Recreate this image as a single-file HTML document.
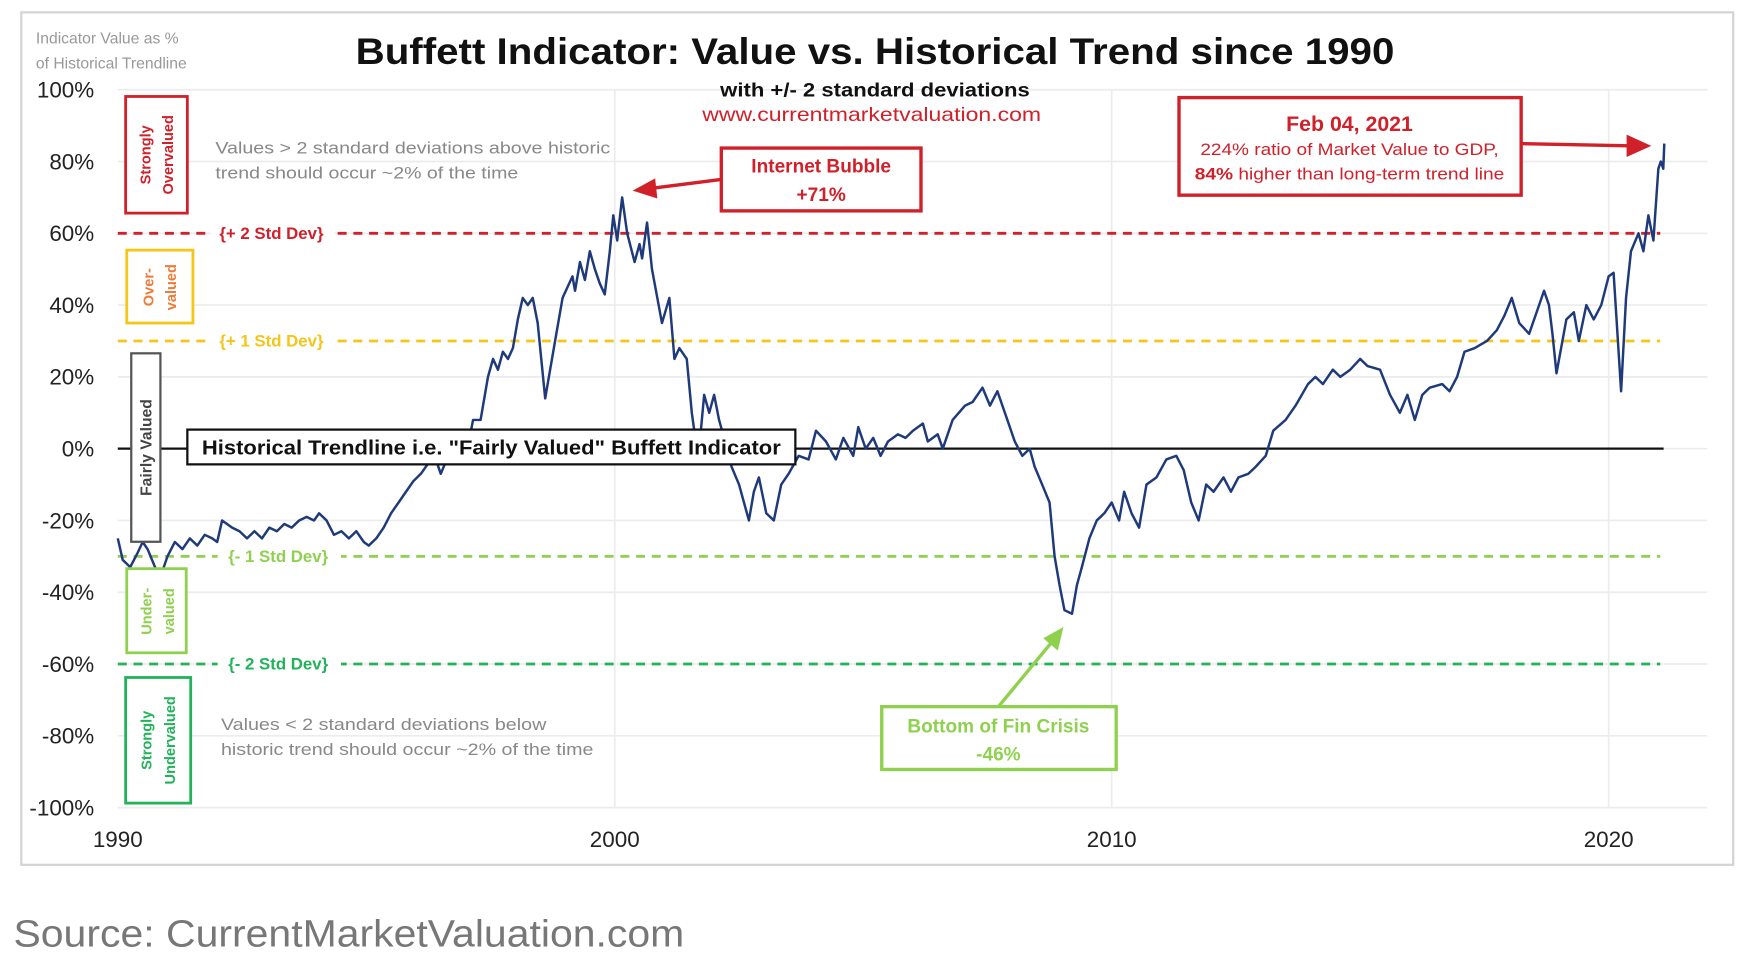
<!DOCTYPE html>
<html><head><meta charset="utf-8"><style>
html,body{margin:0;padding:0;background:#fff;}
svg{display:block;font-family:"Liberation Sans",sans-serif;}
</style></head><body>
<svg width="1750" height="968" viewBox="0 0 1560 863" preserveAspectRatio="none">
<rect x="19" y="11" width="1526" height="760" fill="#fff" stroke="#d4d4d4" stroke-width="2"/>
<g id="grid"></g>
<g id="ylabels"></g>
<g id="xlabels"></g>
<text x="32" y="39" font-size="14" fill="#999">Indicator Value as %</text>
<text x="32" y="61" font-size="14" fill="#999">of Historical Trendline</text>
<text x="780" y="57" font-size="33" font-weight="bold" text-anchor="middle" fill="#111" textLength="926" lengthAdjust="spacingAndGlyphs">Buffett Indicator: Value vs. Historical Trend since 1990</text>
<text x="780" y="86" font-size="17" font-weight="bold" text-anchor="middle" fill="#111" textLength="276" lengthAdjust="spacingAndGlyphs">with +/- 2 standard deviations</text>
<text x="777" y="108" font-size="17" text-anchor="middle" fill="#d0202a" textLength="302" lengthAdjust="spacingAndGlyphs">www.currentmarketvaluation.com</text>
<g id="bands"></g>
<line x1="105" y1="400" x2="1483" y2="400" stroke="#111" stroke-width="2"/>
<path id="series" fill="none" stroke="#1f3a7a" stroke-width="2.2" stroke-linejoin="round"/>
<!-- zone boxes -->
<rect x="112" y="86" width="55" height="104" fill="#fff" stroke="#d0202a" stroke-width="2.5"/>
<text transform="translate(134,138) rotate(-90)" font-size="13" font-weight="bold" fill="#d0202a" text-anchor="middle">Strongly</text>
<text transform="translate(154,138) rotate(-90)" font-size="13" font-weight="bold" fill="#d0202a" text-anchor="middle">Overvalued</text>
<rect x="113" y="223" width="59" height="65" fill="#fff" stroke="#f5c518" stroke-width="2.5"/>
<text transform="translate(137,256) rotate(-90)" font-size="13" font-weight="bold" fill="#ef7b3a" text-anchor="middle">Over-</text>
<text transform="translate(157,256) rotate(-90)" font-size="13" font-weight="bold" fill="#ef7b3a" text-anchor="middle">valued</text>
<rect x="117" y="315" width="26" height="168" fill="#fff" stroke="#555" stroke-width="2"/>
<text transform="translate(135,399) rotate(-90)" font-size="14" font-weight="bold" fill="#444" text-anchor="middle">Fairly Valued</text>
<rect x="113" y="507" width="53" height="75" fill="#fff" stroke="#8fd14f" stroke-width="2.5"/>
<text transform="translate(135,545) rotate(-90)" font-size="13" font-weight="bold" fill="#8fd14f" text-anchor="middle">Under-</text>
<text transform="translate(155,545) rotate(-90)" font-size="13" font-weight="bold" fill="#8fd14f" text-anchor="middle">valued</text>
<rect x="112" y="604" width="58" height="112" fill="#fff" stroke="#22b35a" stroke-width="2.5"/>
<text transform="translate(135,660) rotate(-90)" font-size="13" font-weight="bold" fill="#22b35a" text-anchor="middle">Strongly</text>
<text transform="translate(156,660) rotate(-90)" font-size="13" font-weight="bold" fill="#22b35a" text-anchor="middle">Undervalued</text>
<!-- notes -->
<text x="192" y="137" font-size="15" fill="#888" textLength="352" lengthAdjust="spacingAndGlyphs">Values &gt; 2 standard deviations above historic</text>
<text x="192" y="159" font-size="15" fill="#888" textLength="270" lengthAdjust="spacingAndGlyphs">trend should occur ~2% of the time</text>
<text x="197" y="651" font-size="15" fill="#888" textLength="290" lengthAdjust="spacingAndGlyphs">Values &lt; 2 standard deviations below</text>
<text x="197" y="673" font-size="15" fill="#888" textLength="332" lengthAdjust="spacingAndGlyphs">historic trend should occur ~2% of the time</text>
<!-- trendline label -->
<rect x="167" y="383" width="542" height="31" fill="#fff" stroke="#111" stroke-width="2"/>
<text x="438" y="405" font-size="18" font-weight="bold" fill="#111" text-anchor="middle" textLength="516" lengthAdjust="spacingAndGlyphs">Historical Trendline i.e. "Fairly Valued" Buffett Indicator</text>
<!-- internet bubble -->
<rect x="643" y="132" width="178" height="56" fill="#fff" stroke="#d0202a" stroke-width="3"/>
<text x="732" y="154" font-size="17" font-weight="bold" fill="#d0202a" text-anchor="middle">Internet Bubble</text>
<text x="732" y="179" font-size="17" font-weight="bold" fill="#d0202a" text-anchor="middle">+71%</text>
<line x1="643" y1="160" x2="580" y2="168" stroke="#d0202a" stroke-width="3"/>
<polygon points="564,170 584,159 586,177" fill="#d0202a"/>
<!-- feb 2021 -->
<rect x="1051" y="87" width="305" height="87" fill="#fff" stroke="#d0202a" stroke-width="3"/>
<text x="1203" y="117" font-size="19" font-weight="bold" fill="#d0202a" text-anchor="middle">Feb 04, 2021</text>
<text x="1203" y="138" font-size="14.5" fill="#d0202a" text-anchor="middle" textLength="266" lengthAdjust="spacingAndGlyphs">224% ratio of Market Value to GDP,</text>
<text x="1203" y="160" font-size="14.5" fill="#d0202a" text-anchor="middle" textLength="276" lengthAdjust="spacingAndGlyphs"><tspan font-weight="bold">84%</tspan> higher than long-term trend line</text>
<line x1="1356" y1="128" x2="1452" y2="130" stroke="#d0202a" stroke-width="3"/>
<polygon points="1472,130 1450,120 1450,140" fill="#d0202a"/>
<!-- fin crisis -->
<rect x="786" y="630" width="209" height="56" fill="#fff" stroke="#8fd14f" stroke-width="3"/>
<text x="890" y="653" font-size="17" font-weight="bold" fill="#8fd14f" text-anchor="middle">Bottom of Fin Crisis</text>
<text x="890" y="678" font-size="17" font-weight="bold" fill="#8fd14f" text-anchor="middle">-46%</text>
<line x1="890" y1="630" x2="938" y2="572" stroke="#8fd14f" stroke-width="3"/>
<polygon points="948,559 930,569 943,580" fill="#8fd14f"/>
<text x="12" y="844" font-size="34" fill="#777" textLength="598" lengthAdjust="spacingAndGlyphs">Source: CurrentMarketValuation.com</text>
</svg>
<script>
const yTicks = [100, 80, 60, 40, 20, 0, -20, -40, -60, -80, -100];
const xTicks = [1990, 2000, 2010, 2020];
const bandValues = [60, 30, -30, -60];
const bandLabels = ["+ 2 Std Dev", "+ 1 Std Dev", "- 1 Std Dev", "- 2 Std Dev"];
const years = [1990.0,1990.1,1990.25,1990.4,1990.5,1990.6,1990.75,1990.85,1991.0,1991.15,1991.3,1991.45,1991.6,1991.75,1991.9,1992.0,1992.1,1992.3,1992.45,1992.6,1992.75,1992.9,1993.05,1993.2,1993.35,1993.5,1993.65,1993.8,1993.95,1994.05,1994.2,1994.35,1994.5,1994.65,1994.8,1994.95,1995.05,1995.2,1995.35,1995.5,1995.65,1995.8,1995.95,1996.1,1996.25,1996.4,1996.5,1996.65,1996.8,1996.95,1997.05,1997.15,1997.3,1997.45,1997.55,1997.65,1997.75,1997.85,1997.95,1998.05,1998.15,1998.25,1998.35,1998.45,1998.6,1998.8,1998.95,1999.05,1999.15,1999.2,1999.3,1999.4,1999.5,1999.6,1999.7,1999.8,1999.9,1999.97,2000.05,2000.15,2000.25,2000.4,2000.5,2000.55,2000.65,2000.75,2000.95,2001.1,2001.2,2001.3,2001.45,2001.55,2001.6,2001.7,2001.8,2001.9,2002.0,2002.1,2002.2,2002.35,2002.5,2002.7,2002.8,2002.9,2003.05,2003.2,2003.35,2003.5,2003.7,2003.9,2004.05,2004.25,2004.45,2004.6,2004.8,2004.9,2005.05,2005.2,2005.35,2005.5,2005.7,2005.85,2006.0,2006.2,2006.3,2006.5,2006.6,2006.8,2007.05,2007.2,2007.4,2007.55,2007.7,2007.9,2008.05,2008.2,2008.35,2008.45,2008.6,2008.75,2008.85,2008.95,2009.05,2009.2,2009.3,2009.4,2009.55,2009.7,2009.85,2010.0,2010.15,2010.25,2010.4,2010.55,2010.7,2010.9,2011.1,2011.3,2011.45,2011.6,2011.75,2011.9,2012.05,2012.25,2012.4,2012.55,2012.75,2012.9,2013.1,2013.25,2013.5,2013.7,2013.95,2014.1,2014.25,2014.45,2014.6,2014.8,2015.0,2015.15,2015.4,2015.6,2015.8,2015.95,2016.1,2016.25,2016.4,2016.65,2016.8,2016.95,2017.1,2017.3,2017.55,2017.75,2017.9,2018.05,2018.2,2018.4,2018.55,2018.7,2018.8,2018.87,2018.95,2019.15,2019.3,2019.4,2019.55,2019.7,2019.85,2020.0,2020.1,2020.25,2020.35,2020.45,2020.6,2020.7,2020.8,2020.9,2021.0,2021.05,2021.1,2021.12];
const values = [-25,-31,-33,-29,-26,-28,-33,-36,-30,-26,-28,-25,-27,-24,-25,-26,-20,-22,-23,-25,-23,-25,-22,-23,-21,-22,-20,-19,-20,-18,-20,-24,-23,-25,-23,-26,-27,-25,-22,-18,-15,-12,-9,-7,-4,-3,-7,-2,0,3,1,8,8,20,25,22,27,25,28,36,42,40,42,35,14,30,42,45,48,44,52,47,55,50,46,43,55,65,58,70,60,52,57,53,63,50,35,42,25,28,25,10,5,0,15,10,15,8,3,-5,-10,-20,-12,-8,-18,-20,-10,-7,-2,-3,5,2,-3,3,-2,6,0,3,-2,2,4,3,5,7,2,4,0,8,12,13,17,12,16,8,2,-2,0,-5,-10,-15,-30,-38,-45,-46,-38,-33,-25,-20,-18,-15,-20,-12,-18,-22,-10,-8,-3,-2,-6,-15,-20,-10,-12,-8,-12,-8,-7,-5,-2,5,8,12,18,20,18,22,20,22,25,23,22,15,10,15,8,15,17,18,16,20,27,28,30,33,37,42,35,32,38,44,40,32,21,36,38,30,40,36,40,48,49,16,42,55,60,55,65,58,78,80,78,85];

const NS = "http://www.w3.org/2000/svg";
function xScale(yr){ return 105 + (yr - 1990) * 44.3; }
function yScale(v){ return 400 - v * 3.2; }
const bandColors = ["#d0202a", "#f5c518", "#8fd14f", "#22b35a"];
function mk(tag, attrs, parent){ const e = document.createElementNS(NS, tag); for (const k in attrs) e.setAttribute(k, attrs[k]); parent.appendChild(e); return e; }

const grid = document.getElementById('grid');
yTicks.forEach(v => {
  const l = mk('line', {x1:105, x2:1522, y1:yScale(v), y2:yScale(v), stroke:'#ececec', 'stroke-width':1.5}, grid);
  
  
});
xTicks.slice(1).forEach(t => {
  const l = mk('line', {x1:xScale(t), x2:xScale(t), y1:yScale(100), y2:yScale(-100), stroke:'#ececec', 'stroke-width':1.5}, grid);
  
  
});
const yl = document.getElementById('ylabels');
yTicks.forEach(v => {
  const t = mk('text', {x:84, y:yScale(v)+7, 'font-size':20, fill:'#222', 'text-anchor':'end'}, yl);
  t.textContent = v + '%';
  
  
});
const xl = document.getElementById('xlabels');
xTicks.forEach(v => {
  const t = mk('text', {x:xScale(v), y:755, 'font-size':20, fill:'#222', 'text-anchor':'middle'}, xl);
  t.textContent = v;
  
  
});
const bands = document.getElementById('bands');
bandValues.forEach((v, i) => {
  const y = yScale(v);
  const l = mk('line', {x1:105, x2:1480, y1:y, y2:y, stroke:bandColors[i], 'stroke-width':2.5, 'stroke-dasharray':'8 6'}, bands);
  
  
  const x0 = i < 2 ? 190 : 196;
  const r = mk('rect', {x:x0-2, y:y-11, width:110, height:22, fill:'#fff'}, bands);
  
  
  const t = mk('text', {x:x0+52, y:y+5, 'font-size':15, 'font-weight':'bold', fill:bandColors[i], 'text-anchor':'middle'}, bands);
  t.textContent = '{' + bandLabels[i] + '}';
  
  
});
let d = '';
years.forEach((yr, i) => { d += (i ? 'L' : 'M') + xScale(yr).toFixed(1) + ',' + yScale(values[i]).toFixed(1); });
document.getElementById('series').setAttribute('d', d);
</script>
</body></html>
